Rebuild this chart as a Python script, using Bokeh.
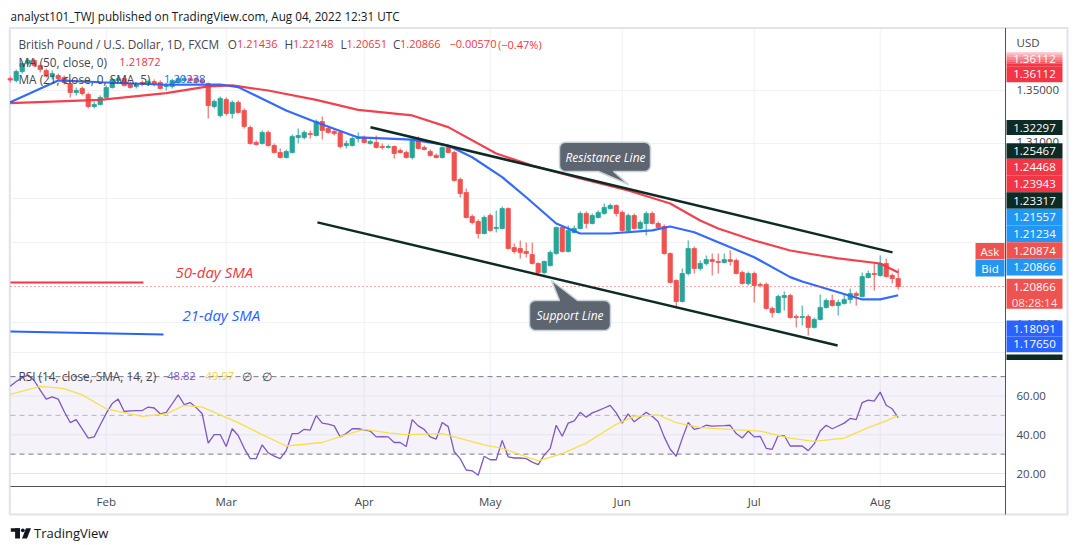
import math
from bokeh.plotting import figure
from bokeh.models import Range1d
from bokeh.embed import file_html
from bokeh.resources import INLINE
from bokeh.core.properties import value

# ---------------- data (GBP/USD daily, 10 Jan - 4 Aug 2022) ----------------
bar_index = list(range(149))
open_ = [1.3578, 1.3565, 1.3629, 1.3686, 1.3708, 1.3672, 1.3636, 1.3593, 1.3600, 1.3586,
         1.3543, 1.3478, 1.3507, 1.3464, 1.3378, 1.3392, 1.3443, 1.3514, 1.3565, 1.3578,
         1.3543, 1.3522, 1.3550, 1.3543, 1.3557, 1.3550, 1.3522, 1.3522, 1.3550, 1.3565,
         1.3578, 1.3578, 1.3565, 1.3543, 1.3378, 1.3313, 1.3428, 1.3328, 1.3407, 1.3349,
         1.3227, 1.3120, 1.3113, 1.3192, 1.3098, 1.3048, 1.3012, 1.3048, 1.3156, 1.3156,
         1.3184, 1.3170, 1.3270, 1.3220, 1.3199, 1.3192, 1.3098, 1.3098, 1.3148, 1.3156,
         1.3113, 1.3120, 1.3091, 1.3084, 1.3091, 1.3062, 1.3048, 1.3012, 1.3134, 1.3084,
         1.3055, 1.3027, 1.3012, 1.3084, 1.3048, 1.2854, 1.2761, 1.2589, 1.2553, 1.2467,
         1.2596, 1.2503, 1.2503, 1.2646, 1.2366, 1.2359, 1.2338, 1.2316, 1.2252, 1.2187,
         1.2237, 1.2323, 1.2510, 1.2338, 1.2474, 1.2503, 1.2611, 1.2539, 1.2582, 1.2611,
         1.2646, 1.2668, 1.2618, 1.2488, 1.2596, 1.2503, 1.2539, 1.2611, 1.2539, 1.2517,
         1.2323, 1.2130, 1.1979, 1.2180, 1.2359, 1.2216, 1.2252, 1.2280, 1.2266, 1.2259,
         1.2280, 1.2273, 1.2187, 1.2108, 1.2180, 1.2101, 1.2101, 1.1929, 1.1900, 1.2008,
         1.2022, 1.1871, 1.1864, 1.1871, 1.1793, 1.1850, 1.1936, 1.1986, 1.1950, 1.1965,
         1.1993, 1.2036, 1.2015, 1.2151, 1.2180, 1.2166, 1.2252, 1.2166, 1.21436]
high = [1.3593, 1.3643, 1.3701, 1.3722, 1.3722, 1.3686, 1.3651, 1.3636, 1.3614, 1.3600,
        1.3557, 1.3514, 1.3522, 1.3478, 1.3414, 1.3457, 1.3529, 1.3586, 1.3593, 1.3593,
        1.3557, 1.3550, 1.3565, 1.3572, 1.3572, 1.3565, 1.3550, 1.3578, 1.3593, 1.3600,
        1.3593, 1.3593, 1.3578, 1.3550, 1.3428, 1.3450, 1.3443, 1.3421, 1.3421, 1.3364,
        1.3242, 1.3134, 1.3206, 1.3206, 1.3113, 1.3077, 1.3070, 1.3177, 1.3220, 1.3206,
        1.3206, 1.3285, 1.3306, 1.3235, 1.3213, 1.3206, 1.3134, 1.3163, 1.3192, 1.3170,
        1.3141, 1.3170, 1.3113, 1.3105, 1.3098, 1.3077, 1.3062, 1.3148, 1.3163, 1.3098,
        1.3070, 1.3041, 1.3091, 1.3098, 1.3062, 1.2869, 1.2790, 1.2603, 1.2567, 1.2596,
        1.2611, 1.2632, 1.2661, 1.2654, 1.2395, 1.2417, 1.2402, 1.2402, 1.2259, 1.2273,
        1.2345, 1.2517, 1.2517, 1.2524, 1.2524, 1.2625, 1.2625, 1.2611, 1.2632, 1.2682,
        1.2682, 1.2675, 1.2632, 1.2611, 1.2611, 1.2560, 1.2625, 1.2625, 1.2553, 1.2532,
        1.2331, 1.2137, 1.2216, 1.2417, 1.2374, 1.2273, 1.2309, 1.2323, 1.2323, 1.2323,
        1.2345, 1.2287, 1.2201, 1.2194, 1.2194, 1.2116, 1.2116, 1.1943, 1.2029, 1.2051,
        1.2036, 1.1886, 1.1950, 1.1886, 1.1864, 1.2029, 1.2001, 1.2029, 1.1993, 1.2036,
        1.2072, 1.2051, 1.2187, 1.2201, 1.2252, 1.2309, 1.2287, 1.2180, 1.22148]
low = [1.3550, 1.3550, 1.3614, 1.3672, 1.3658, 1.3622, 1.3586, 1.3572, 1.3565, 1.3536,
       1.3443, 1.3457, 1.3457, 1.3364, 1.3364, 1.3385, 1.3435, 1.3507, 1.3550, 1.3522,
       1.3507, 1.3507, 1.3522, 1.3529, 1.3522, 1.3500, 1.3493, 1.3507, 1.3543, 1.3557,
       1.3550, 1.3543, 1.3536, 1.3292, 1.3364, 1.3299, 1.3313, 1.3292, 1.3328, 1.3220,
       1.3105, 1.3098, 1.3105, 1.3091, 1.3041, 1.3005, 1.3005, 1.3041, 1.3113, 1.3141,
       1.3148, 1.3163, 1.3141, 1.3184, 1.3170, 1.3077, 1.3077, 1.3091, 1.3120, 1.3113,
       1.3105, 1.3077, 1.3070, 1.3077, 1.3005, 1.3041, 1.3005, 1.2998, 1.3070, 1.3062,
       1.3019, 1.3005, 1.3005, 1.3041, 1.2840, 1.2725, 1.2575, 1.2532, 1.2431, 1.2460,
       1.2481, 1.2474, 1.2496, 1.2352, 1.2323, 1.2287, 1.2295, 1.2245, 1.2173, 1.2173,
       1.2230, 1.2316, 1.2331, 1.2331, 1.2467, 1.2496, 1.2503, 1.2532, 1.2575, 1.2603,
       1.2639, 1.2589, 1.2481, 1.2481, 1.2496, 1.2496, 1.2453, 1.2532, 1.2503, 1.2316,
       1.2108, 1.1929, 1.1972, 1.2166, 1.2180, 1.2201, 1.2237, 1.2166, 1.2180, 1.2252,
       1.2237, 1.2173, 1.2101, 1.2094, 1.1972, 1.2080, 1.1922, 1.1864, 1.1893, 1.1914,
       1.1857, 1.1793, 1.1807, 1.1735, 1.1785, 1.1843, 1.1929, 1.1943, 1.1878, 1.1957,
       1.1965, 1.1950, 1.2008, 1.2144, 1.2058, 1.2158, 1.2151, 1.2108, 1.20651]
close = [1.3568, 1.3629, 1.3686, 1.3708, 1.3672, 1.3643, 1.3600, 1.3614, 1.3578, 1.3550,
         1.3478, 1.3493, 1.3471, 1.3378, 1.3392, 1.3443, 1.3514, 1.3572, 1.3578, 1.3529,
         1.3514, 1.3536, 1.3536, 1.3557, 1.3536, 1.3507, 1.3529, 1.3565, 1.3578, 1.3578,
         1.3565, 1.3557, 1.3550, 1.3385, 1.3414, 1.3435, 1.3328, 1.3407, 1.3335, 1.3235,
         1.3113, 1.3105, 1.3192, 1.3098, 1.3048, 1.3012, 1.3055, 1.3163, 1.3170, 1.3192,
         1.3177, 1.3270, 1.3206, 1.3192, 1.3184, 1.3091, 1.3113, 1.3148, 1.3156, 1.3120,
         1.3127, 1.3084, 1.3084, 1.3091, 1.3041, 1.3048, 1.3012, 1.3134, 1.3077, 1.3070,
         1.3027, 1.3012, 1.3084, 1.3048, 1.2847, 1.2754, 1.2582, 1.2546, 1.2467, 1.2582,
         1.2488, 1.2510, 1.2646, 1.2359, 1.2338, 1.2330, 1.2323, 1.2252, 1.2187, 1.2266,
         1.2331, 1.2510, 1.2338, 1.2488, 1.2503, 1.2611, 1.2539, 1.2596, 1.2618, 1.2654,
         1.2668, 1.2611, 1.2488, 1.2596, 1.2503, 1.2546, 1.2611, 1.2539, 1.2510, 1.2323,
         1.2116, 1.1979, 1.2180, 1.2359, 1.2216, 1.2252, 1.2280, 1.2266, 1.2259, 1.2280,
         1.2266, 1.2180, 1.2108, 1.2180, 1.2094, 1.2094, 1.1929, 1.1900, 1.2015, 1.2022,
         1.1864, 1.1864, 1.1871, 1.1793, 1.1850, 1.1936, 1.1986, 1.1950, 1.1972, 1.1993,
         1.2036, 1.2022, 1.2158, 1.2180, 1.2173, 1.2252, 1.2158, 1.2144, 1.20866]

month_labels = ["Feb", "Mar", "Apr", "May", "Jun", "Jul", "Aug"]
month_index = [16, 36, 59, 80, 102, 124, 145]

sma50_index = [0, 15, 26, 33, 37, 43, 51, 58, 67, 73, 81, 87, 95, 103, 110, 115, 118, 124, 130, 135, 138, 145, 148]
sma50_value = [1.3402, 1.3426, 1.3474, 1.3522, 1.3529, 1.3493, 1.3426, 1.3354, 1.3314, 1.3230, 1.3041, 1.2955,
               1.2862, 1.2776, 1.2682, 1.2560, 1.2503, 1.2417, 1.2345, 1.2309, 1.2288, 1.2252, 1.21872]
sma21_index = [0, 8, 15, 26, 35, 38, 46, 51, 58, 67, 73, 77, 82, 86, 91, 95, 100, 107, 110, 114, 118, 124,
               130, 132, 138, 142, 145, 148]
sma21_value = [1.3409, 1.3565, 1.3552, 1.3534, 1.3536, 1.3517, 1.3349, 1.3265, 1.3156, 1.3141, 1.3098, 1.3014,
               1.2871, 1.2727, 1.2539, 1.2467, 1.2467, 1.2489, 1.2517, 1.2476, 1.2405, 1.2297, 1.2154, 1.2123,
               1.2046, 1.1994, 1.1994, 1.20238]

rsi_value = [65.0, 67.5, 69.5, 70.8, 68.0, 63.0, 58.4, 59.6, 58.4, 52.0,
             46.3, 47.8, 43.0, 38.3, 38.9, 45.0, 51.0, 56.1, 58.4, 52.0,
             52.3, 52.5, 52.5, 54.3, 53.8, 50.8, 51.6, 56.0, 60.6, 55.6,
             56.6, 54.0, 50.8, 35.7, 40.1, 40.1, 33.9, 43.1, 39.6, 33.0,
             27.7, 27.7, 34.8, 30.7, 29.0, 27.7, 31.8, 40.6, 40.6, 42.8,
             42.4, 49.9, 46.0, 45.5, 44.6, 38.9, 40.6, 43.1, 43.1, 42.5,
             41.9, 38.9, 39.0, 38.9, 36.0, 36.0, 33.9, 47.8, 44.6, 42.8,
             38.9, 37.8, 46.3, 44.2, 31.2, 27.7, 21.8, 21.4, 19.1, 28.9,
             27.1, 27.1, 37.1, 28.6, 28.0, 28.0, 27.7, 25.9, 24.6, 29.5,
             33.0, 44.9, 39.2, 46.0, 47.2, 51.6, 49.0, 51.3, 52.5, 53.8,
             55.2, 51.3, 46.0, 50.8, 46.7, 49.0, 51.6, 49.5, 46.7, 38.9,
             32.5, 28.9, 38.0, 46.3, 42.8, 43.5, 44.9, 44.5, 44.6, 44.7,
             44.9, 40.6, 38.3, 41.9, 38.9, 39.2, 33.0, 32.5, 39.6, 39.6,
             34.2, 34.2, 34.2, 31.8, 35.3, 41.9, 44.9, 43.1, 44.5, 46.0,
             48.4, 47.8, 56.6, 57.9, 57.4, 62.0, 55.2, 53.4, 48.82]
rsi_sma_index = [0, 5, 9, 12, 16, 22, 26, 29, 32, 38, 42, 46, 52, 56, 59, 63, 66, 72, 79, 82, 88, 92, 96,
                 101, 104, 108, 111, 115, 120, 125, 130, 134, 139, 143, 146, 148]
rsi_sma_value = [60.9, 65.0, 63.8, 60.6, 53.4, 49.5, 50.8, 55.2, 54.3, 46.3, 40.1, 34.2, 36.0, 40.1, 42.8,
                 41.0, 40.1, 40.6, 34.8, 33.0, 26.5, 30.3, 35.7, 45.4, 49.5, 50.2, 46.3, 43.7, 42.8, 41.9,
                 38.3, 36.6, 38.3, 43.7, 47.2, 49.97]
rsi_levels = [70, 50, 30]
rsi_grid = [60, 40, 20]

resistance_index = [60.05, 147.05]
resistance_price = [1.32297, 1.23317]
support_index = [51.2, 137.9]
support_price = [1.25467, 1.1664]
last_price = 1.20866

# ---------------- layout helpers (reference pixels -> data) ----------------
W, H = 1079, 545
OX, OY = 0, 0


def X(px):
    return (px - 9.7) / 6.0


def P(py):
    return 1.35 - (py - 89.0) / 1394.0


def R(py):
    return 60.0 - (py - 395.5) / 1.9375


FONT = "Open Sans"
p = figure(width=W, height=H, x_range=Range1d(X(OX), X(OX + W)), y_range=Range1d(P(OY + H), P(OY)),
           output_backend="svg", toolbar_location=None, x_axis_location=None, y_axis_location=None,
           min_border=0, outline_line_color=None, background_fill_color="white",
           border_fill_color="white")
p.extra_y_ranges = {"rsi": Range1d(R(OY + H), R(OY))}
p.grid.visible = False


def txt(px, py, s, color, size=12, align="left", style="normal", font=FONT):
    p.text(x=[X(px)], y=[P(py)], text=[s], text_color=color, text_font=value(font),
           text_font_size=f"{size}px", text_align=align, text_baseline="middle",
           text_font_style=style)


def hline_px(x0, x1, py, color, width=1.0, dash="solid", alpha=1.0):
    p.segment(x0=[X(x0)], y0=[P(py)], x1=[X(x1)], y1=[P(py)], line_color=color,
              line_width=width, line_dash=dash, line_alpha=alpha)


def box_px(x0, y0, x1, y1, color, alpha=1.0):
    p.quad(left=[X(x0)], right=[X(x1)], top=[P(y0)], bottom=[P(y1)], fill_color=color,
           fill_alpha=alpha, line_color=None)


def rrect_pts(x0, y0, x1, y1, r):
    pts = []
    for cx, cy, a0 in [(x1 - r, y0 + r, -90), (x1 - r, y1 - r, 0), (x0 + r, y1 - r, 90), (x0 + r, y0 + r, 180)]:
        for k in range(7):
            a = math.radians(a0 + 15 * k)
            pts.append((cx + r * math.cos(a), cy + r * math.sin(a)))
    return pts


# ---------------- background structure ----------------
p.quad(left=[X(9.3)], right=[X(1067)], top=[P(27.5)], bottom=[P(514)], fill_color=None,
       line_color="#e0e3eb", line_width=2)

GRID = "#eef1f7"
p.segment(x0=month_index, y0=[P(28.5)] * 7, x1=month_index, y1=[P(486)] * 7, line_color=GRID, line_width=1)
for gy in [90, 143, 198, 242, 322, 352]:
    hline_px(10, 1005, gy, GRID)

p.quad(left=[X(10)], right=[X(1005)], top=[70], bottom=[30], y_range_name="rsi",
       fill_color="#7e57c2", fill_alpha=0.08, line_color=None)
p.segment(x0=[X(10)] * 3, y0=rsi_grid, x1=[X(1005)] * 3, y1=rsi_grid, y_range_name="rsi",
          line_color="#e3e6f0", line_width=1)
p.segment(x0=[X(10)] * 2, y0=[70, 30], x1=[X(1005)] * 2, y1=[70, 30], y_range_name="rsi",
          line_color="#787b86", line_width=1, line_dash="5 4")
p.segment(x0=[X(10)], y0=[50], x1=[X(1005)], y1=[50], y_range_name="rsi",
          line_color="#787b86", line_alpha=0.5, line_width=1, line_dash="5 4")

# ---------------- candles ----------------
colors = ["#26a69a" if c >= o else "#ef5350" for o, c in zip(open_, close)]
body_top = [max(o, c) for o, c in zip(open_, close)]
body_bot = [min(o, c) for o, c in zip(open_, close)]
p.segment(x0=bar_index, y0=low, x1=bar_index, y1=high, line_color=colors, line_width=1)
p.vbar(x=bar_index, top=body_top, bottom=body_bot, width=0.72, fill_color=colors,
       line_color=colors, line_width=0.8)

p.line(sma50_index, sma50_value, line_color="#f23645", line_width=2.2, line_alpha=0.95)
p.line(sma21_index, sma21_value, line_color="#2962ff", line_width=2.2, line_alpha=0.95)

p.segment(x0=[X(10)], y0=[last_price], x1=[X(1005)], y1=[last_price], line_color="#ef5350",
          line_width=1, line_dash="1 3")

DARK = "#0d2b24"
p.line(resistance_index, resistance_price, line_color=DARK, line_width=2.5)
p.line(support_index, support_price, line_color=DARK, line_width=2.5)

p.line([X(10), X(143)], [P(282), P(282)], line_color="#f23645", line_width=2)
p.line([X(10), X(163)], [P(331), P(334)], line_color="#2962ff", line_width=2)
txt(175, 271, "50-day SMA", "#f23645", 15, style="italic")
txt(182, 314, "21-day SMA", "#2962ff", 15, style="italic")

CALL_FILL = "#5d6570"
CALL_LINE = "#c5d3d6"
pts = rrect_pts(559, 141.7, 650, 171, 6)
pts = pts[:14] + [(613, 171), (628, 184), (598, 171)] + pts[14:]
p.patch([X(a) for a, b in pts], [P(b) for a, b in pts], fill_color=CALL_FILL, line_color=CALL_LINE, line_width=1.5)
txt(605, 157, "Resistance Line", "white", 12, align="center", style="italic")
pts = rrect_pts(529, 300, 610, 330, 6) + [(559, 300), (551, 280), (577, 300)]
p.patch([X(a) for a, b in pts], [P(b) for a, b in pts], fill_color=CALL_FILL, line_color=CALL_LINE, line_width=1.5)
txt(569.5, 315, "Support Line", "white", 12, align="center", style="italic")

# ---------------- RSI ----------------
p.line(bar_index, rsi_value, y_range_name="rsi", line_color="#7e57c2", line_width=1.3)
p.line(rsi_sma_index, rsi_sma_value, y_range_name="rsi", line_color="#f7e04b", line_width=1.3)

# ---------------- axes ----------------
AX = "#50535e"
p.segment(x0=[X(1005)], y0=[P(27.5)], x1=[X(1005)], y1=[P(514)], line_color=AX, line_width=1)
hline_px(10, 1005, 486, AX)
for lab, mi in zip(month_labels, month_index):
    p.text(x=[mi], y=[P(500.5)], text=[lab], text_color="#434651", text_font=value(FONT),
           text_font_size="11.5px", text_align="center", text_baseline="middle")

TICK = "#434651"
txt(1016, 41.7, "USD", TICK, 11.5)
txt(1016, 89.3, "1.35000", TICK, 11.5)
txt(1016, 141, "1.31000", TICK, 11.5)
txt(1016, 323, "1.18500", TICK, 11.5)
for lab, v in zip(["60.00", "40.00", "20.00"], rsi_grid):
    p.text(x=[X(1016)], y=[v], text=[lab], y_range_name="rsi", text_color=TICK,
           text_font=value(FONT), text_font_size="11.5px", text_baseline="middle")

RED, RED2, BLUE, BLUE2 = "#f23645", "#ef5350", "#2196f3", "#2962ff"
for k in range(6):
    box_px(1006, 51.7 + k * 2.33, 1062, 51.7 + (k + 1) * 2.33, RED, alpha=0.3 + 0.14 * k)
tags = [("1.36112", 51.7, 65.7, None), ("1.36112", 65.7, 81.7, RED), ("1.32297", 119.5, 134.5, DARK),
        ("1.25467", 142.7, 158.3, DARK), ("1.24468", 158.3, 175, RED), ("1.23943", 175, 191.7, RED),
        ("1.23317", 191.7, 208.3, DARK), ("1.21557", 208.3, 225, BLUE), ("1.21234", 225, 241.7, BLUE),
        ("1.20874", 241.7, 258.3, RED2), ("1.20866", 258.3, 275, BLUE),
        ("1.18091", 320, 336, BLUE2), ("1.17650", 336, 351.7, BLUE2)]
for s, y0, y1, col in tags:
    if col:
        box_px(1006, y0, 1062, y1, col)
    txt(1034, (y0 + y1) / 2, s, "white", 11.5, align="center")
box_px(1006, 278.3, 1062, 308.3, RED2)
txt(1034, 286.7, "1.20866", "white", 11.5, align="center")
txt(1034, 301.5, "08:28:14", "#fde0e0", 11.5, align="center")
box_px(1006, 354, 1062, 359.5, DARK)
box_px(975, 242.5, 1004, 259, RED2)
txt(989.5, 250.7, "Ask", "white", 11.5, align="center")
box_px(975, 259.5, 1004, 276, BLUE)
txt(989.5, 267.7, "Bid", "white", 11.5, align="center")

# ---------------- legends / header ----------------
LEG = "#434651"
txt(10, 15.5, "analyst101_TWJ published on TradingView.com, Aug 04, 2022 12:31 UTC", "#131722", 11.7)
txt(18, 43.7, "British Pound / U.S. Dollar, 1D, FXCM", LEG, 11.8)
for s, xx, col in [("O", 227.3, LEG), ("1.21436", 236.5, RED), ("H", 284, LEG), ("1.22148", 292.5, RED),
                   ("L", 340, LEG), ("1.20651", 346, RED), ("C", 392.5, LEG), ("1.20866", 399.5, RED),
                   ("\u22120.00570", 449, RED), ("(\u22120.47%)", 497.5, RED)]:
    txt(xx, 43.7, s, col, 11 if col == RED else 11.8)
txt(18, 61, "MA (50, close, 0)", LEG, 11.8)
txt(118.8, 61, "1.21872", RED, 11.2)
txt(18, 78, "MA (21, close, 0, SMA, 5)", LEG, 11.8)
txt(163.6, 78, "1.20238", BLUE2, 11.2)
txt(18, 375.5, "RSI (14, close, SMA, 14, 2)", LEG, 11.8)
txt(166.7, 375.5, "48.82", "#7e57c2", 11.2)
txt(205, 375.5, "49.97", "#f2d33a", 11.2)
txt(241, 375.5, "\u2205", LEG, 11.8)
txt(261, 375.5, "\u2205", LEG, 11.8)

LOGO = "#131722"
box_px(10.3, 527.7, 19.5, 531.2, LOGO)
box_px(14.6, 527.7, 19.5, 538, LOGO)
p.circle(x=[X(22.3)], y=[P(529.8)], radius=0.32, fill_color=LOGO, line_color=None)
p.patch([X(25.5), X(30.5), X(26.5), X(21.5)], [P(527.7), P(527.7), P(538), P(538)], fill_color=LOGO,
        line_color=None)
txt(33.5, 532, "TradingView", LOGO, 13)

open("out.html", "w").write(file_html(p, INLINE))
